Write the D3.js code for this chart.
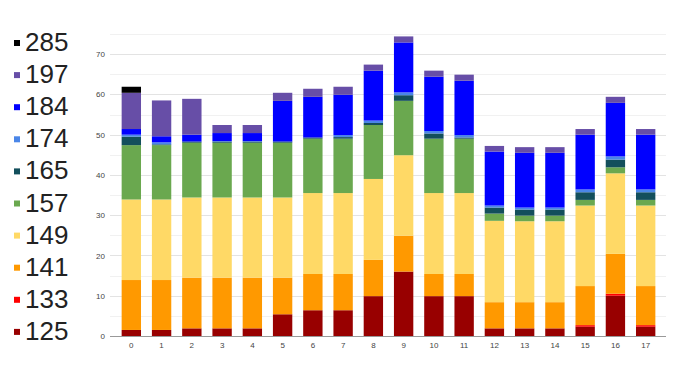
<!DOCTYPE html>
<html><head><meta charset="utf-8">
<script src="https://cdn.jsdelivr.net/npm/d3@7"></script>
<style>body{margin:0;background:#fff}svg{display:block}</style>
</head><body>
<svg id="c" width="680" height="382"></svg>
<script>
const categories = ["0","1","2","3","4","5","6","7","8","9","10","11","12","13","14","15","16","17"];
const seriesNames = ["125","133","141","149","157","165","174","184","197","285"];
const colors = ["#980000","#ff0000","#ff9900","#ffd966","#6aa84f","#134f5c","#4a86e8","#0000ff","#674ea7","#000000"];
const s125 = [1.5,1.5,1.9,1.9,1.9,5.4,6.4,6.4,9.9,16,9.9,9.9,1.9,1.9,1.9,2.3,10,2.3];
const s133 = [0,0,0,0,0,0,0,0,0,0,0,0,0,0,0,0.4,0.5,0.4];
const s141 = [12.4,12.4,12.6,12.6,12.6,9.1,9,9,9,8.9,5.5,5.5,6.5,6.5,6.5,9.7,9.9,9.7];
const s149 = [20,20,19.9,19.9,19.9,19.9,20.1,20.1,20.1,20,20.1,20.1,20.2,20.1,20.1,20,20,20];
const s157 = [13.5,13.5,13.6,13.6,13.6,13.6,13.5,13.5,13.4,13.5,13.5,13.5,1.8,1.4,1.4,1.4,1.5,1.4];
const s165 = [2.1,0.2,0.3,0.3,0.3,0.3,0.3,0.4,0.5,1.4,1.3,0.3,1.5,1.5,1.5,1.9,1.9,1.9];
const s174 = [0.5,0.5,0,0.1,0.1,0,0,0.5,0.6,0.7,0.6,0.6,0.5,0.5,0.5,0.7,0.8,0.7];
const s184 = [1.4,1.5,1.7,2,2,10.1,10.1,10,12.4,12.4,13.5,13.5,13.4,13.6,13.6,13.6,13.3,13.6];
const s197 = [9,8.9,8.9,2,2,2,2,2,1.5,1.5,1.5,1.5,1.4,1.4,1.4,1.4,1.5,1.4];
const s285 = [1.5,0,0,0,0,0,0,0,0,0,0,0,0,0,0,0,0,0];
const seriesValues = [s125,s133,s141,s149,s157,s165,s174,s184,s197,s285];
const yTicks = [0,10,20,30,40,50,60,70];
const yMinor = [5,15,25,35,45,55,65,75];

const svg = d3.select("#c");
const x = d3.scaleBand().domain(categories).range([116.2, 660.8]).paddingInner(0.36).paddingOuter(0.18);
const y = d3.scaleLinear().domain([0, 75]).range([336, 34]);
const font = "Liberation Sans, Arial, sans-serif";

// gridlines
svg.append("g").selectAll("line").data(yMinor).join("line")
  .attr("x1", 110).attr("x2", 666).attr("y1", d => Math.round(y(d)) + 0.5).attr("y2", d => Math.round(y(d)) + 0.5)
  .attr("stroke", "#f1f1f1").attr("stroke-width", 1);
svg.append("g").selectAll("line").data(yTicks.filter(d => d > 0)).join("line")
  .attr("x1", 110).attr("x2", 666).attr("y1", d => Math.round(y(d)) + 0.5).attr("y2", d => Math.round(y(d)) + 0.5)
  .attr("stroke", "#e3e3e3").attr("stroke-width", 1);

// stacked bars
const rows = categories.map((c, i) => {
  const o = {cat: c};
  seriesNames.forEach((s, j) => o[s] = seriesValues[j][i]);
  return o;
});
const stacked = d3.stack().keys(seriesNames)(rows);
svg.append("g").selectAll("g").data(stacked).join("g")
  .attr("fill", (d, i) => colors[i])
  .selectAll("rect").data(d => d).join("rect")
  .attr("x", d => x(d.data.cat))
  .attr("width", x.bandwidth())
  .attr("y", d => y(d[1]))
  .attr("height", d => Math.max(0, y(d[0]) - y(d[1])));

// y axis labels
const yAxis = d3.axisLeft(y).tickValues(yTicks).tickSize(0).tickPadding(5);
const ya = svg.append("g").attr("transform", "translate(110,0)").call(yAxis);
ya.select(".domain").remove();
ya.selectAll("text").attr("fill", "#444").style("font-family", font).style("font-size", "8px");

// x axis
const xAxis = d3.axisBottom(x).tickSize(0).tickPadding(6);
const xa = svg.append("g").attr("transform", "translate(0,336)").call(xAxis);
xa.select(".domain").remove();
xa.selectAll("text").attr("fill", "#444").style("font-family", font).style("font-size", "8px");
svg.append("line").attr("x1", 110).attr("x2", 666).attr("y1", 336.5).attr("y2", 336.5).attr("stroke", "#999");

// legend
const leg = svg.append("g").selectAll("g").data(seriesNames.slice().reverse()).join("g")
  .attr("transform", (d, i) => `translate(0,${41.5 + 32.1 * i})`);
leg.append("rect").attr("x", 14).attr("y", -1.5).attr("width", 6).attr("height", 6)
  .attr("fill", d => colors[seriesNames.indexOf(d)]);
leg.append("text").attr("x", 25).attr("y", 9.5).text(d => d)
  .style("font-family", font).style("font-size", "26px").attr("fill", "#222");
</script>
</body></html>
